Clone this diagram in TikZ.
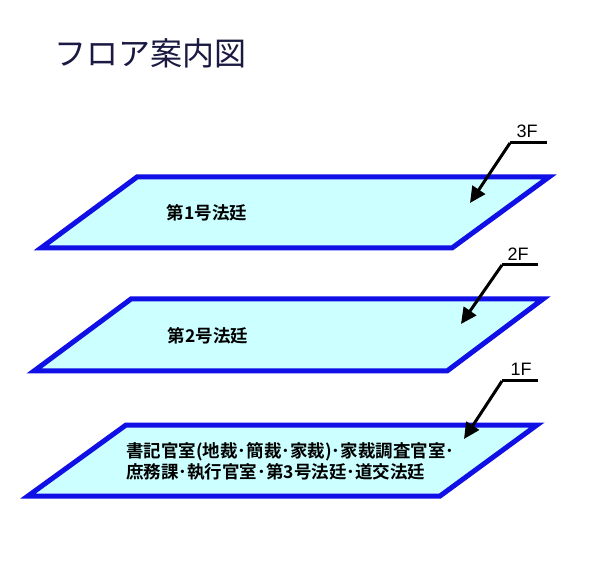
\documentclass[tikz,border=0pt]{standalone}
\usepackage{fontspec}
\setmainfont{Liberation Sans}
\newfontfamily\jpfont{Noto Sans CJK JP}
\newfontfamily\jpbold{Noto Sans CJK JP Bold}
\usetikzlibrary{arrows.meta}
\definecolor{floorblue}{RGB}{15,15,230}
\definecolor{floorfill}{RGB}{204,255,255}
\definecolor{titlenavy}{RGB}{25,25,65}
\tikzset{
  floor/.style={draw=floorblue, fill=floorfill, line width=5pt, line join=miter},
  pointer/.style={draw=black, line width=3pt, -{Triangle[length=16pt,width=15pt]}},
  leader/.style={draw=black, line width=3pt},
  flabel/.style={font=\fontsize{18}{20}\selectfont, inner sep=0pt},
  roomtext/.style={font=\jpbold\fontsize{17.5}{20}\selectfont, inner sep=0pt},
}
\begin{document}
\begin{tikzpicture}[x=1pt,y=-1pt]
\useasboundingbox (0,0) rectangle (600,585);
% title
\node[font=\jpfont\fontsize{32}{36}\selectfont, text=titlenavy, anchor=west, inner sep=0pt] (title) at (54,53) {フロア案内図};
% floors
\draw[floor] (137,177) -- (549,177) -- (452,248) -- (41,248) -- cycle;
\draw[floor] (131,299) -- (543,299) -- (447,371) -- (34,371) -- cycle;
\draw[floor] (126,425) -- (537,425) -- (440,496) -- (28,496) -- cycle;
% room texts
\node[roomtext] (r3) at (207,213) {第1号法廷};
\node[roomtext] (r2) at (208,336) {第2号法廷};
\node[font=\jpbold\fontsize{17.5}{21}\selectfont, inner sep=0pt, align=left, anchor=north west] (r1) at (126,442) {書記官室(地裁･簡裁･家裁)･家裁調査官室･\\庶務課･執行官室･第3号法廷･道交法廷};
% labels and pointers
\node[flabel] (l3) at (527,131) {3F};
\coordinate (h3a) at (547,143);
\coordinate (h3b) at (510,143);
\coordinate (t3) at (470,203);
\draw[leader] (h3a) -- (h3b);
\draw[pointer] (h3b) -- (t3);

\node[flabel] (l2) at (518,254) {2F};
\coordinate (h2a) at (538,265);
\coordinate (h2b) at (502,265);
\coordinate (t2) at (461,324);
\draw[leader] (h2a) -- (h2b);
\draw[pointer] (h2b) -- (t2);

\node[flabel] (l1) at (521,369) {1F};
\coordinate (h1a) at (538,381);
\coordinate (h1b) at (502,381);
\coordinate (t1) at (464,439);
\draw[leader] (h1a) -- (h1b);
\draw[pointer] (h1b) -- (t1);
\end{tikzpicture}
\end{document}
